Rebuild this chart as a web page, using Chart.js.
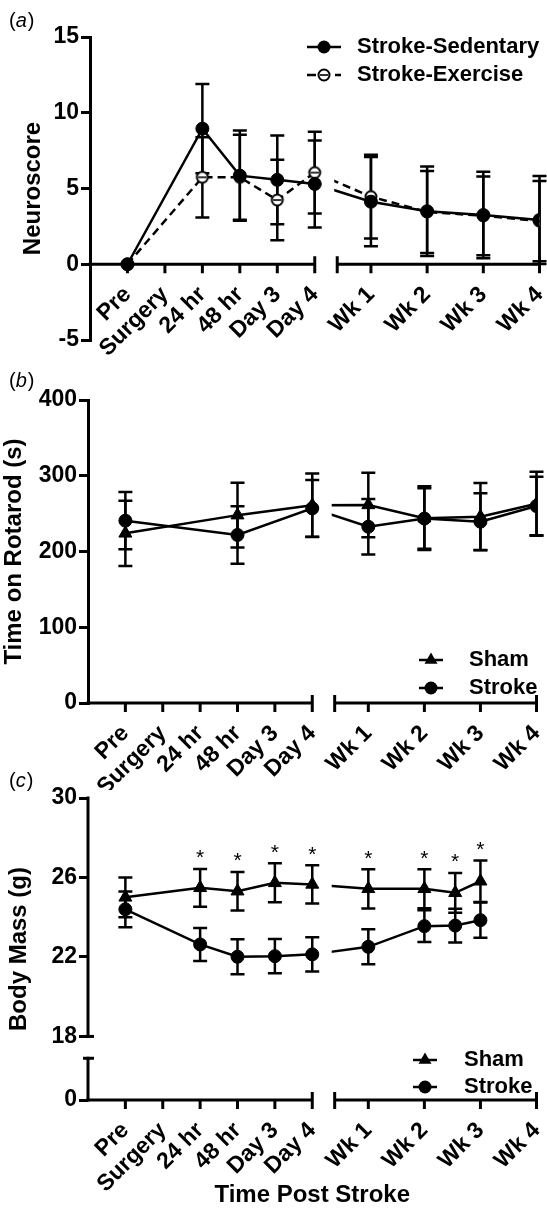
<!DOCTYPE html>
<html>
<head>
<meta charset="utf-8">
<script src="https://cdn.jsdelivr.net/npm/chart.js@4.4.1/dist/chart.umd.min.js"></script>
<style>
    body { margin: 0; background: #fff; }
    canvas.panel { position: absolute; left: 0; }
</style>
</head>
<body>
<canvas id="panelA" class="panel" width="547" height="372" style="top:0px"></canvas>
<canvas id="panelB" class="panel" width="547" height="430" style="top:360px"></canvas>
<canvas id="panelC" class="panel" width="547" height="450" style="top:760px"></canvas>
<script>
// Time points shared by the three panels
const timeLabels = ['Pre', 'Surgery', '24 hr', '48 hr', 'Day 3', 'Day 4', 'Wk 1', 'Wk 2', 'Wk 3', 'Wk 4'];

// (a) Neuroscore
const neuroTimes = [0, 2, 3, 4, 5, 6, 7, 8, 9];
const sedentaryMean = [0, 8.95, 5.85, 5.57, 5.3, 4.13, 3.5, 3.25, 2.92];
const sedentaryErr = [0, 2.95, 2.98, 2.93, 2.87, 2.95, 2.95, 2.85, 2.9];
const exerciseMean = [0, 5.74, 5.74, 4.24, 6.05, 4.46, 3.45, 3.2, 2.85];
const exerciseErr = [0, 2.65, 2.8, 2.66, 2.7, 2.76, 2.7, 2.6, 2.65];
const neuroTicks = [-5, 0, 5, 10, 15];

// (b) Rotarod
const rotarodTimes = [0, 3, 5, 6, 7, 8, 9];
const rotaShamMean = [224, 248, 261, 261.5, 244, 246, 263];
const rotaShamErr = [43, 42.6, 42, 42.6, 42, 44.4, 42.3];
const rotaStrokeMean = [240.7, 221.8, 257, 232.7, 243.5, 239.4, 260];
const rotaStrokeErr = [37.7, 38, 37.5, 36.5, 40, 37.4, 38.7];
const rotarodTicks = [0, 100, 200, 300, 400];

// (c) Body mass
const massTimes = [0, 2, 3, 4, 5, 6, 7, 7.55, 8];
const massShamMean = [25.0, 25.48, 25.31, 25.73, 25.65, 25.43, 25.43, 25.23, 25.81];
const massShamErr = [1.0, 0.95, 0.97, 0.98, 0.96, 0.99, 0.98, 1.0, 1.05];
const massStrokeMean = [24.4, 22.63, 22.01, 22.04, 22.13, 22.51, 23.55, 23.58, 23.85];
const massStrokeErr = [0.9, 0.83, 0.88, 0.86, 0.86, 0.88, 0.8, 0.85, 0.89];
const massSig = [false, true, true, true, true, true, true, true, true];
const massTicks = [0, 18, 22, 26, 30];

const FONT = '"Liberation Sans", Arial, Helvetica, sans-serif';
const tickFont = { family: FONT, size: 23, weight: 'bold' };
const titleFont = { family: FONT, size: 24, weight: 'bold' };

// days one step apart, weeks 1.5 steps apart behind the axis break
function timeToX(t) {
    return t <= 5 ? t + 1 : 7.5 + (t - 6) * 1.5;
}

// 0 g sits below the broken part of the body mass axis
const MASS_ZERO = 14.8;
function massToY(v) {
    return v === 0 ? MASS_ZERO : v;
}

function seriesData(times, values) {
    return times.map((t, i) => ({ x: timeToX(t), y: values[i] }));
}

// open circle with a bar through it, as in the original plot
function openCircleIcon() {
    const c = document.createElement('canvas');
    c.width = 16;
    c.height = 16;
    const g = c.getContext('2d');
    g.fillStyle = '#fff';
    g.strokeStyle = '#000';
    g.lineWidth = 2;
    g.beginPath();
    g.arc(8, 8, 5.5, 0, Math.PI * 2);
    g.fill();
    g.stroke();
    g.lineWidth = 1.6;
    g.beginPath();
    g.moveTo(4, 8);
    g.lineTo(12, 8);
    g.stroke();
    return c;
}
const openCircle = openCircleIcon();

function lineSet(data, dash) {
    return {
        data: data,
        showLine: true,
        borderColor: '#000',
        borderWidth: 2.5,
        borderDash: dash || [],
        pointRadius: 0,
        fill: false,
        tension: 0,
        order: 5,
        clipGap: true
    };
}

function markerSet(label, data, errors, style, radius, order, extra) {
    return Object.assign({
        label: label,
        data: data,
        showLine: false,
        pointStyle: style,
        pointRadius: radius,
        backgroundColor: '#000',
        borderColor: '#000',
        borderWidth: 1,
        order: order,
        errors: errors,
        marker: style === openCircle ? 'open' : style
    }, extra || {});
}

function drawMarker(ctx, type, x, y) {
    ctx.save();
    ctx.fillStyle = '#000';
    if (type === 'open') {
        ctx.drawImage(openCircle, x - 8, y - 8);
    } else if (type === 'triangle') {
        const r = 7.5;
        ctx.beginPath();
        ctx.moveTo(x, y - r);
        ctx.lineTo(x + r * 0.866, y + r * 0.5);
        ctx.lineTo(x - r * 0.866, y + r * 0.5);
        ctx.closePath();
        ctx.fill();
    } else {
        ctx.beginPath();
        ctx.arc(x, y, 6.5, 0, Math.PI * 2);
        ctx.fill();
    }
    ctx.restore();
}

// axes with breaks, error bars, significance stars, legend and panel letter
function makeDecor(cfg) {
    return {
        id: 'decor',
        beforeDatasetsDraw(chart) {
            const ctx = chart.ctx;
            const xs = chart.scales.x;
            const ys = chart.scales.y;
            const axisY = ys.getPixelForValue(cfg.axisAt);
            ctx.save();
            ctx.strokeStyle = '#000';
            ctx.lineWidth = 3;
            ctx.lineCap = 'butt';

            // x axis, broken between Day 4 and Wk 1
            [[0, 6], [6.6, 12]].forEach(seg => {
                const a = xs.getPixelForValue(seg[0]);
                const b = xs.getPixelForValue(seg[1]);
                ctx.beginPath();
                ctx.moveTo(a - (seg[0] === 0 ? 1.5 : 0), axisY);
                ctx.lineTo(b, axisY);
                ctx.stroke();
            });
            [6, 6.6, 12].forEach(v => {
                const px = xs.getPixelForValue(v);
                ctx.beginPath();
                ctx.moveTo(px, axisY - 8);
                ctx.lineTo(px, axisY + 9);
                ctx.stroke();
            });
            timeLabels.forEach((_, i) => {
                const v = timeToX(i);
                if (v === 6 || v === 12) return;
                const px = xs.getPixelForValue(v);
                ctx.beginPath();
                ctx.moveTo(px, axisY);
                ctx.lineTo(px, axisY + 9);
                ctx.stroke();
            });

            // broken y axis (body mass only)
            if (cfg.ySegments) {
                const left = chart.chartArea.left;
                cfg.ySegments.forEach(seg => {
                    ctx.beginPath();
                    ctx.moveTo(left, ys.getPixelForValue(seg[0]) + 1.5);
                    ctx.lineTo(left, ys.getPixelForValue(seg[1]) - 1.5);
                    ctx.stroke();
                });
                cfg.yCaps.forEach(v => {
                    const py = ys.getPixelForValue(v);
                    ctx.beginPath();
                    ctx.moveTo(left - 5, py);
                    ctx.lineTo(left + 6, py);
                    ctx.stroke();
                });
            }

            // error bars
            ctx.lineWidth = 2.5;
            chart.data.datasets.forEach((ds, i) => {
                if (!ds.errors) return;
                chart.getDatasetMeta(i).data.forEach((pt, j) => {
                    const err = ds.errors[j];
                    if (!err) return;
                    const v = ds.data[j].y;
                    const top = ys.getPixelForValue(v + err);
                    const bot = ys.getPixelForValue(v - err);
                    ctx.beginPath();
                    ctx.moveTo(pt.x, top);
                    ctx.lineTo(pt.x, bot);
                    ctx.moveTo(pt.x - 7, top);
                    ctx.lineTo(pt.x + 7, top);
                    ctx.moveTo(pt.x - 7, bot);
                    ctx.lineTo(pt.x + 7, bot);
                    ctx.stroke();
                });
            });
            ctx.restore();
        },
        beforeDatasetDraw(chart, args) {
            if (!chart.data.datasets[args.index].clipGap) return;
            const xs = chart.scales.x;
            const a = xs.getPixelForValue(6);
            const b = xs.getPixelForValue(6.52);
            const ctx = chart.ctx;
            ctx.save();
            ctx.beginPath();
            ctx.rect(0, 0, a, chart.height);
            ctx.rect(b, 0, chart.width - b, chart.height);
            ctx.clip();
        },
        afterDatasetDraw(chart, args) {
            if (chart.data.datasets[args.index].clipGap) chart.ctx.restore();
        },
        afterDatasetsDraw(chart) {
            const ctx = chart.ctx;
            const ys = chart.scales.y;
            ctx.save();
            ctx.fillStyle = '#000';
            ctx.font = '21px ' + FONT;
            ctx.textAlign = 'center';
            ctx.textBaseline = 'alphabetic';
            chart.data.datasets.forEach((ds, i) => {
                if (!ds.sig) return;
                chart.getDatasetMeta(i).data.forEach((pt, j) => {
                    if (!ds.sig[j]) return;
                    const top = ys.getPixelForValue(ds.data[j].y + ds.errors[j]);
                    ctx.fillText('*', pt.x, top - 4.5);
                });
            });
            ctx.restore();
        },
        afterDraw(chart) {
            const ctx = chart.ctx;
            const lg = cfg.legend;
            const items = chart.data.datasets.filter(ds => ds.label);
            items.forEach((ds, k) => {
                const y = lg.ys[k];
                ctx.save();
                ctx.strokeStyle = '#000';
                ctx.lineWidth = 2.5;
                ctx.setLineDash(ds.legendDash || []);
                ctx.beginPath();
                ctx.moveTo(lg.x0, y);
                ctx.lineTo(lg.x1, y);
                ctx.stroke();
                ctx.setLineDash([]);
                drawMarker(ctx, ds.marker, lg.mx, y);
                ctx.fillStyle = '#000';
                ctx.font = 'bold 22px ' + FONT;
                ctx.textBaseline = 'middle';
                ctx.textAlign = 'left';
                ctx.fillText(ds.label, lg.tx, y);
                ctx.restore();
            });

            // panel letter, e.g. "(a)" with an italic letter
            ctx.save();
            ctx.fillStyle = '#000';
            ctx.textBaseline = 'alphabetic';
            ctx.font = '20px ' + FONT;
            let x = 9;
            ctx.fillText('(', x, cfg.letterY);
            x += ctx.measureText('(').width;
            ctx.font = 'italic 20px ' + FONT;
            ctx.fillText(cfg.letter, x, cfg.letterY);
            x += ctx.measureText(cfg.letter).width + 1;
            ctx.font = '20px ' + FONT;
            ctx.fillText(')', x, cfg.letterY);
            ctx.restore();
        }
    };
}

function xScale(axisAt, height, title) {
    return {
        type: 'linear',
        min: 0,
        max: 12,
        position: { y: axisAt },
        grid: { display: false, drawTicks: false },
        border: { display: false },
        ticks: {
            autoSkip: false,
            minRotation: 45,
            maxRotation: 45,
            padding: 17,
            color: '#000',
            font: tickFont,
            callback: (v, i) => timeLabels[i]
        },
        afterBuildTicks: s => {
            s.ticks = timeLabels.map((_, i) => ({ value: timeToX(i) }));
        },
        afterFit: s => {
            s.height = height;
            s.paddingLeft = 0;
            s.paddingRight = 0;
        },
        title: title
            ? { display: true, text: title, font: titleFont, color: '#000', padding: { top: 0, bottom: 0 } }
            : { display: false }
    };
}

function yScale(opts) {
    return {
        type: 'linear',
        position: 'left',
        min: opts.min,
        max: opts.max,
        grid: { drawOnChartArea: false, drawTicks: true, tickLength: 9, color: '#000', lineWidth: 3 },
        border: { display: !opts.broken, color: '#000', width: 3 },
        ticks: {
            color: '#000',
            font: tickFont,
            padding: 2,
            callback: (v, i) => opts.labels[i]
        },
        afterBuildTicks: s => {
            s.ticks = opts.ticks.map(v => ({ value: opts.map ? opts.map(v) : v }));
        },
        afterFit: s => {
            s.width = opts.width;
            s.paddingTop = 0;
            s.paddingBottom = 0;
        },
        title: {
            display: true,
            text: opts.title,
            font: titleFont,
            color: '#000',
            padding: { top: opts.titlePad, bottom: 0 }
        }
    };
}

function makeChart(id, datasets, scales, padding, decor) {
    return new Chart(document.getElementById(id), {
        type: 'line',
        data: { datasets: datasets },
        options: {
            responsive: false,
            animation: false,
            devicePixelRatio: 1,
            layout: { padding: padding },
            plugins: { legend: { display: false }, tooltip: { enabled: false } },
            scales: scales
        },
        plugins: [makeDecor(decor)]
    });
}

// (a)
makeChart('panelA', [
    lineSet(seriesData(neuroTimes, sedentaryMean)),
    lineSet(seriesData(neuroTimes, exerciseMean), [8, 5]),
    markerSet('Stroke-Sedentary', seriesData(neuroTimes, sedentaryMean), sedentaryErr, 'circle', 6.5, 1),
    markerSet('Stroke-Exercise', seriesData(neuroTimes, exerciseMean), exerciseErr, openCircle, 6, 2,
        { legendDash: [9, 5] })
], {
    x: xScale(0, 32),
    y: yScale({ min: -5, max: 15, ticks: neuroTicks, labels: neuroTicks, width: 90,
        title: 'Neuroscore', titlePad: 19 })
}, { top: 37, right: 7, bottom: 32, left: 0 }, {
    axisAt: 0, letter: 'a', letterY: 27,
    legend: { x0: 307, x1: 341, mx: 324, tx: 357, ys: [47, 75] }
});

// (b)
makeChart('panelB', [
    lineSet(seriesData(rotarodTimes, rotaShamMean)),
    lineSet(seriesData(rotarodTimes, rotaStrokeMean)),
    markerSet('Sham', seriesData(rotarodTimes, rotaShamMean), rotaShamErr, 'triangle', 7.5, 2),
    markerSet('Stroke', seriesData(rotarodTimes, rotaStrokeMean), rotaStrokeErr, 'circle', 6.5, 1)
], {
    x: xScale(0, 87),
    y: yScale({ min: 0, max: 400, ticks: rotarodTicks, labels: rotarodTicks, width: 88,
        title: 'Time on Rotarod (s)', titlePad: 0 })
}, { top: 40, right: 10.5, bottom: 87, left: 0 }, {
    axisAt: 0, letter: 'b', letterY: 27,
    legend: { x0: 419, x1: 443, mx: 431, tx: 469, ys: [300, 328] }
});

// (c)
makeChart('panelC', [
    lineSet(seriesData(massTimes, massShamMean)),
    lineSet(seriesData(massTimes, massStrokeMean)),
    markerSet('Sham', seriesData(massTimes, massShamMean), massShamErr, 'triangle', 7.5, 2, { sig: massSig }),
    markerSet('Stroke', seriesData(massTimes, massStrokeMean), massStrokeErr, 'circle', 6.5, 1)
], {
    x: xScale(MASS_ZERO, 110, 'Time Post Stroke'),
    y: yScale({ min: MASS_ZERO, max: 30, ticks: massTicks, labels: massTicks, map: massToY, width: 88,
        title: 'Body Mass (g)', titlePad: 5, broken: true })
}, { top: 38, right: 10.5, bottom: 110, left: 0 }, {
    axisAt: MASS_ZERO, letter: 'c', letterY: 27,
    ySegments: [[MASS_ZERO, 16.9], [18, 30]], yCaps: [16.9, 18],
    legend: { x0: 413, x1: 437, mx: 425, tx: 464, ys: [300, 327] }
});
</script>
</body>
</html>
